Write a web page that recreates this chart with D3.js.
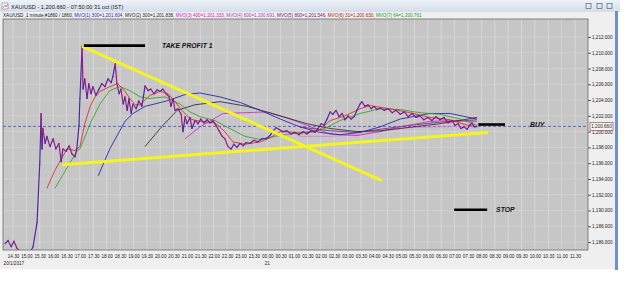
<!DOCTYPE html>
<html><head><meta charset="utf-8">
<script src="https://cdn.jsdelivr.net/npm/d3@7/dist/d3.min.js"></script>
<style>html,body{margin:0;padding:0;background:#fff;overflow:hidden}svg{display:block;font-family:"Liberation Sans",Arial,sans-serif}</style>
</head><body>
<svg id="c" width="625" height="305"></svg>
<script>
// ---------- DATA ----------
const titleText = "XAU/USD - 1,200.660 - 07:50:00 31 oct (IST)";
const legendHead = "XAU/USD ,1 minute,#1860 / 1860, ";
const maNames = ["MVO(1) 300","MVO(2) 300","MVO(3) 400","MVO(4) 600","MVO(5) 800","MVO(6) 31","MVO(7) 64"];
const maLast  = [1201.604, 1201.838, 1201.333, 1200.691, 1201.546, 1200.630, 1200.761];
const dateLabels = ["20/1/2017","21"];
const dateLabelTimes = ["14:09","00:00"];
const yTicks = [1186,1188,1190,1192,1194,1196,1198,1200,1202,1204,1206,1208,1210,1212];
const lastPrice = 1200.66;

const priceTimes = ["14:12","14:19","14:26","14:32","14:39","14:50","15:04","15:15","15:24","15:30","15:33","15:35","15:37","15:42","15:46","15:53","16:00","16:06","16:13","16:18","16:22","16:29","16:36","16:42","16:49","16:53","16:58","17:00","17:05","17:07","17:11","17:16","17:20","17:25","17:29","17:36","17:43","17:49","17:56","18:03","18:10","18:14","18:19","18:23","18:28","18:32","18:37","18:41","18:46","18:50","18:55","18:59","19:06","19:12","19:19","19:26","19:33","19:39","19:46","19:53","20:00","20:06","20:13","20:20","20:24","20:29","20:33","20:40","20:47","20:51","20:56","21:00","21:07","21:11","21:18","21:25","21:31","21:38","21:45","21:52","21:58","22:05","22:12","22:19","22:25","22:32","22:39","22:45","22:52","22:59","23:06","23:12","23:21","23:30","23:39","23:48","23:57","00:06","00:13","00:20","00:26","00:35","00:44","00:53","01:02","01:11","01:20","01:29","01:38","01:47","01:54","02:01","02:07","02:14","02:21","02:27","02:34","02:41","02:48","02:54","03:01","03:08","03:15","03:21","03:28","03:32","03:39","03:46","03:53","03:59","04:06","04:13","04:22","04:31","04:40","04:49","04:58","05:07","05:16","05:25","05:33","05:42","05:51","06:00","06:09","06:18","06:27","06:36","06:45","06:54","07:01","07:08","07:14","07:21","07:28","07:35","07:39","07:44","07:50"];
const priceValues = [1185.8,1186.2,1185.4,1186.1,1185.2,1184.6,1184.2,1185.4,1188.5,1196.0,1202.3,1197.8,1200.4,1198.5,1199.4,1198.1,1199.1,1197.8,1198.5,1196.2,1197.8,1197.5,1198.2,1197.2,1196.8,1197.8,1200.8,1204.2,1210.8,1205.4,1206.7,1204.2,1206.1,1204.8,1205.7,1204.6,1205.4,1206.1,1205.7,1206.7,1206.2,1207.0,1208.6,1206.1,1204.8,1205.4,1203.5,1204.4,1202.7,1204.2,1202.3,1203.5,1202.9,1203.9,1203.2,1205.8,1205.2,1205.4,1204.8,1205.3,1205.1,1205.4,1204.8,1204.4,1203.2,1204.2,1202.7,1202.9,1202.2,1200.0,1201.9,1201.0,1201.8,1200.4,1201.4,1201.0,1201.6,1201.1,1201.5,1201.1,1201.4,1200.8,1200.1,1199.4,1199.1,1198.1,1197.8,1198.4,1198.0,1198.5,1198.2,1198.6,1198.5,1198.9,1198.7,1199.1,1199.1,1199.5,1200.1,1200.5,1200.3,1200.0,1200.1,1199.7,1199.9,1199.6,1200.0,1199.7,1200.1,1199.9,1200.4,1201.0,1200.8,1201.6,1202.5,1202.2,1202.7,1201.9,1202.3,1201.5,1202.0,1201.6,1201.9,1202.7,1203.5,1203.8,1203.2,1203.4,1202.9,1203.2,1202.8,1203.0,1202.7,1202.9,1202.4,1202.7,1202.2,1202.5,1201.9,1202.3,1201.8,1202.0,1201.5,1201.8,1201.4,1201.9,1201.5,1201.8,1201.1,1201.4,1200.8,1201.0,1200.4,1200.6,1200.3,1200.9,1201.1,1200.6,1200.66];

// moving averages
const ma1Times = ["17:41","18:07","18:41","18:59","19:26","20:15","20:56","21:29","22:14","22:59","23:44","00:29","01:13","01:58","02:43","03:28","04:13","04:58","06:05","06:50","07:50"];
const ma1Values = [1194.4,1197.8,1201.3,1202.3,1203.2,1203.9,1204.7,1204.9,1204.4,1203.7,1202.7,1201.6,1200.6,1199.9,1199.6,1199.9,1200.6,1201.6,1202.3,1202.3,1201.6];
const ma2Times = ["19:26","20:00","20:38","21:18","22:14","23:15","00:29","01:29","02:21","03:21","04:13","05:27","06:27","07:50"];
const ma2Values = [1198.1,1200.4,1202.7,1203.4,1203.8,1203.2,1202.0,1201.0,1200.4,1200.0,1200.1,1200.6,1201.0,1201.8];
const ma3Times = ["20:56","21:29","22:21","23:10","23:59","00:51","01:29","02:21","03:21","04:13","04:58","06:05","06:50","07:50"];
const ma3Values = [1199.1,1200.6,1202.3,1202.4,1202.5,1201.6,1200.8,1199.7,1199.5,1200.0,1200.6,1201.3,1201.4,1201.3];
const ma4Times = ["01:13","02:21","03:21","04:13","05:20","06:27","07:50"];
const ma4Values = [1199.4,1199.4,1199.6,1200.1,1200.5,1200.6,1200.7];
const ma5Times = ["01:13","02:21","03:21","04:13","05:20","06:27","07:50"];
const ma5Values = [1200.6,1200.1,1199.9,1200.3,1200.8,1201.2,1201.5];
const ma6Times = ["15:46","16:04","16:31","16:49","17:00","17:11","17:23","17:34","17:45","18:07","18:25","18:41","18:52","19:04","19:15","19:37","20:00","20:18","20:33","20:49","21:07","21:29","22:03","22:25","22:43","23:10","23:44","00:06","00:29","01:13","01:54","02:21","02:54","03:28","03:50","04:35","05:20","06:05","06:50","07:23","07:50"];
const ma6Values = [1192.8,1195.1,1197.8,1197.6,1198.1,1201.0,1203.2,1204.4,1205.1,1205.7,1206.1,1205.1,1204.2,1203.4,1203.4,1204.6,1205.1,1204.8,1203.8,1202.7,1201.6,1201.3,1201.1,1200.0,1198.7,1198.4,1198.7,1199.2,1200.0,1199.9,1200.1,1201.4,1202.0,1202.9,1203.3,1202.9,1202.4,1201.8,1201.5,1200.9,1200.6];
const ma7Times = ["16:04","16:53","17:00","17:23","17:45","18:07","18:30","18:52","19:15","19:37","20:11","20:44","21:07","21:29","22:03","22:36","23:10","23:44","00:17","00:51","01:36","02:09","02:43","03:28","04:13","04:58","05:42","06:27","07:12","07:50"];
const ma7Values = [1192.8,1197.5,1197.8,1201.0,1203.5,1205.2,1205.7,1205.2,1204.4,1204.2,1204.4,1203.5,1202.5,1201.9,1201.4,1200.4,1199.4,1199.0,1199.4,1199.7,1199.9,1200.4,1201.4,1202.3,1202.9,1202.8,1202.4,1202.2,1201.6,1200.8];

// drawn trendlines and levels
const trendDownTimes = ["17:05","04:17"], trendDownValues = [1210.8,1193.8];
const trendUpTimes = ["16:20","08:15"], trendUpValues = [1195.8,1199.9];
const levelNames = ["TAKE PROFIT 1","BUY","STOP"];
const levelValues = [1210.9,1200.9,1190.1];
const levelStart = ["17:09","07:53","06:59"];
const levelEnd = ["19:26","08:53","08:13"];
const levelLabelTime = ["20:04","09:49","08:33"];

// ---------- RENDER ----------
function T(s){const [h,m]=s.split(":").map(Number);return new Date(2017,0,h<14?21:20,h,m);}
const svg=d3.select("#c");
const P={l:3,r:588,t:19,b:250};
const x=d3.scaleTime().domain([new Date(2017,0,20,14,7,36),new Date(2017,0,21,11,59,0)]).range([P.l,P.r]);
const y=d3.scaleLinear().domain([1184.99,1214.28]).range([P.b,P.t]);

// window frame
svg.append("rect").attr("x",0).attr("y",0).attr("width",618).attr("height",269).attr("fill","#efefef");
const g=svg.append("defs").append("linearGradient").attr("id","tb").attr("x1",0).attr("y1",0).attr("x2",0).attr("y2",1);
g.append("stop").attr("offset",0).attr("stop-color","#eef3f9");
g.append("stop").attr("offset",1).attr("stop-color","#d3dde9");
svg.append("rect").attr("x",0).attr("y",0).attr("width",620).attr("height",12).attr("fill","url(#tb)");
svg.append("rect").attr("x",615).attr("y",11).attr("width",3).attr("height",259).attr("fill","#6f8fcf");
svg.append("rect").attr("x",2).attr("y",3).attr("width",6).attr("height",6).attr("fill","#fff").attr("stroke","#7a7a9a").attr("stroke-width",0.6);
svg.append("path").attr("d","M3,8 L5,5 L6,7 L7.5,4").attr("fill","none").attr("stroke","#c03030").attr("stroke-width",0.6);
svg.append("text").attr("x",11).attr("y",8.6).attr("font-size",5.6).attr("fill","#1a1a1a").text(titleText);
[586,597,607].forEach((bx,i)=>{
  svg.append("rect").attr("x",bx).attr("y",3.5).attr("width",5).attr("height",5).attr("fill","none").attr("stroke","#55606e").attr("stroke-width",0.7);
});

// legend
const maColors=["#2a2aa8","#222222","#d020c8","#b040c0","#702070","#b01818","#28a028"];
const lt=svg.append("text").attr("x",3).attr("y",16.6).attr("font-size",4.6);
lt.append("tspan").attr("fill","#111").text(legendHead);
maNames.forEach((n,i)=>lt.append("tspan").attr("fill",maColors[i]).text(n+"="+d3.format(",.3f")(maLast[i])+(i<maNames.length-1?", ":"")));

// plot background and grid
svg.append("rect").attr("x",P.l).attr("y",P.t).attr("width",P.r-P.l).attr("height",P.b-P.t).attr("fill","#c6c6c6");
const xt=x.ticks(d3.timeMinute.every(30));
svg.append("g").selectAll("line").data(xt).join("line")
  .attr("x1",d=>x(d)).attr("x2",d=>x(d)).attr("y1",P.t).attr("y2",P.b).attr("stroke","#dcdcdc").attr("stroke-width",0.8);
svg.append("g").selectAll("line").data(yTicks).join("line")
  .attr("x1",P.l).attr("x2",P.r).attr("y1",d=>y(d)).attr("y2",d=>y(d)).attr("stroke","#d6d6d6").attr("stroke-width",0.6);

svg.append("clipPath").attr("id","pc").append("rect").attr("x",P.l).attr("y",P.t).attr("width",P.r-P.l).attr("height",P.b-P.t);
const pg=svg.append("g").attr("clip-path","url(#pc)");

// current price dashed line
pg.append("line").attr("x1",P.l).attr("x2",P.r).attr("y1",y(lastPrice)).attr("y2",y(lastPrice))
  .attr("stroke","#5a5ad0").attr("stroke-width",0.9).attr("stroke-dasharray","3,2");

const line=d3.line().x(d=>x(T(d[0]))).y(d=>y(d[1]));
function drawSeries(times,vals,color,w){
  pg.append("path").datum(times.map((t,i)=>[t,vals[i]])).attr("d",line).attr("fill","none").attr("stroke",color).attr("stroke-width",w).attr("stroke-linejoin","round");
}
// MAs (long first)
drawSeries(ma5Times,ma5Values,maColors[4],0.8);
drawSeries(ma4Times,ma4Values,"#ee70e0",0.8);
drawSeries(ma3Times,ma3Values,maColors[2],0.8);
drawSeries(ma2Times,ma2Values,maColors[1],0.8);
drawSeries(ma1Times,ma1Values,maColors[0],0.9);
drawSeries(ma7Times,ma7Values,maColors[6],0.8);
drawSeries(ma6Times,ma6Values,"#e02020",0.8);
// price
const pdata=priceTimes.map((t,i)=>[t,priceValues[i]]);
pg.selectAll("line.seg").data(pdata.slice(1)).join("line").attr("class","seg")
  .attr("x1",(d,i)=>x(T(pdata[i][0]))).attr("y1",(d,i)=>y(pdata[i][1]))
  .attr("x2",d=>x(T(d[0]))).attr("y2",d=>y(d[1]))
  .attr("stroke",(d,i)=>d[1]>=pdata[i][1]?"#4a2aa0":"#a01880").attr("stroke-width",1.2).attr("stroke-linecap","round");

// trendlines
drawSeries(trendDownTimes,trendDownValues,"#f4f420",3);
drawSeries(trendUpTimes,trendUpValues,"#f4f420",3);

// levels and labels
levelNames.forEach((n,i)=>{
  pg.append("line").attr("x1",x(T(levelStart[i]))).attr("x2",x(T(levelEnd[i]))).attr("y1",y(levelValues[i])).attr("y2",y(levelValues[i]))
    .attr("stroke","#000").attr("stroke-width",2.6);
  pg.append("text").attr("x",x(T(levelLabelTime[i]))).attr("y",y(levelValues[i])+2.3).attr("font-size",6.8)
    .attr("font-weight","bold").attr("font-style","italic").attr("fill","#111").text(n);
});

// plot border
svg.append("rect").attr("x",P.l).attr("y",P.t).attr("width",P.r-P.l).attr("height",P.b-P.t).attr("fill","none").attr("stroke","#6a6a6a").attr("stroke-width",0.8);

// y axis (right)
const ya=svg.append("g").attr("transform",`translate(${P.r},0)`)
  .call(d3.axisRight(y).tickValues(yTicks).tickFormat(d3.format(",.3f")).tickSize(3).tickPadding(1));
ya.select(".domain").remove();
ya.selectAll("line").attr("stroke","#555");
ya.selectAll("text").attr("font-size",4.6).attr("fill","#222").attr("font-family","Liberation Sans, Arial, sans-serif");

// last price box
svg.append("rect").attr("x",590).attr("y",y(lastPrice)-4).attr("width",23).attr("height",8).attr("fill","#f6f6f6").attr("stroke","#a05050").attr("stroke-width",0.7);
svg.append("text").attr("x",601.5).attr("y",y(lastPrice)+1.7).attr("text-anchor","middle").attr("font-size",4.6).attr("fill","#222").text(d3.format(",.3f")(lastPrice));

// x axis
const xa=svg.append("g").attr("transform",`translate(0,${P.b})`)
  .call(d3.axisBottom(x).tickValues(xt).tickFormat(d3.timeFormat("%H.%M")).tickSize(0).tickPadding(5));
xa.select(".domain").remove();
xa.selectAll("text").attr("font-size",4.6).attr("fill","#222").attr("font-family","Liberation Sans, Arial, sans-serif");

// date labels
dateLabels.forEach((d,i)=>svg.append("text").attr("x",x(T(dateLabelTimes[i]))).attr("y",265).attr("font-size",4.6).attr("fill","#222").attr("text-anchor",i?"middle":"start").text(d));
</script>
</body></html>
